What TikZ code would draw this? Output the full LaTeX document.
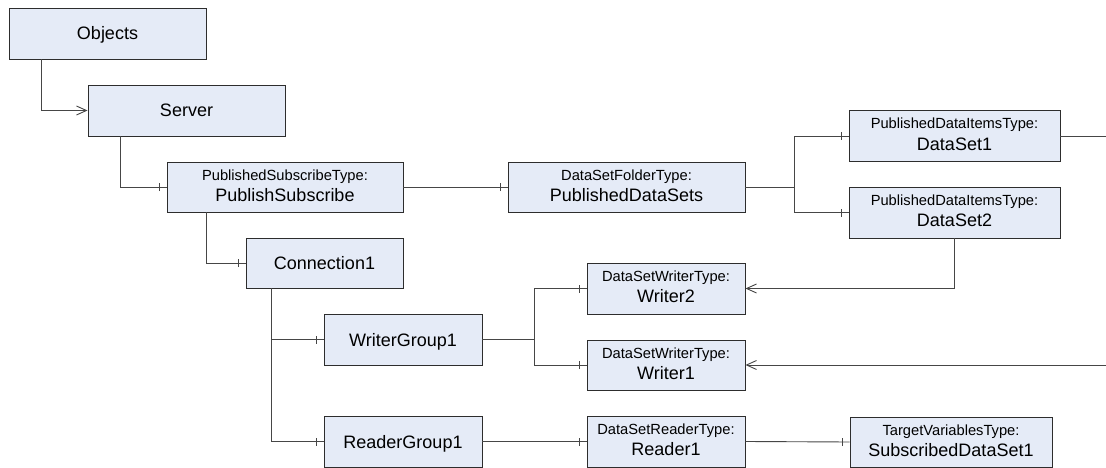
\documentclass[tikz,border=0pt]{standalone}
\usepackage{fontspec}
\setmainfont{Liberation Sans}
\usetikzlibrary{arrows.meta}
\definecolor{boxfill}{RGB}{229,235,247}
\definecolor{boxline}{RGB}{45,45,45}
\definecolor{conncol}{RGB}{70,70,70}
\newcommand\tickbar[1]{\draw[conn] ([xshift=-7pt,yshift=-4pt]#1.west) -- ([xshift=-7pt,yshift=4pt]#1.west);}
\newcommand\twobox[7]{%
  \node[box,minimum width=#4pt,minimum height=#5pt] (#1) at (#2,#3) {};
  \node[smalltxt,anchor=base] (#1-t) at ([yshift=7pt]#1.center) {#6};
  \node[bigtxt,anchor=base] (#1-n) at ([yshift=-14pt]#1.center) {#7};}
\begin{document}
\begin{tikzpicture}[x=1pt,y=-1pt,
  box/.style={draw=boxline,fill=boxfill,line width=0.9pt,rectangle,inner sep=0pt},
  onebox/.style={box,font=\fontsize{18}{20}\selectfont,text height=13pt,text depth=0pt},
  bigtxt/.style={font=\fontsize{18}{20}\selectfont,inner sep=0pt},
  smalltxt/.style={font=\fontsize{14.7}{16}\selectfont,inner sep=0pt},
  conn/.style={draw=conncol,line width=0.9pt},
  arr/.style={conn,-{Straight Barb[length=10pt,width=9pt]}}]
\useasboundingbox (0,0) rectangle (1106,468);
% boxes
\node[onebox,minimum width=197pt,minimum height=51pt] (obj) at (107.5,33.5) {Objects};
\node[onebox,minimum width=197pt,minimum height=51pt] (srv) at (186.5,110.5) {Server};
\twobox{ps}{285}{187}{236}{50}{PublishedSubscribeType:}{PublishSubscribe}
\twobox{pds}{626.5}{187}{237}{50}{DataSetFolderType:}{PublishedDataSets}
\twobox{dsa}{954.5}{136}{211}{51}{PublishedDataItemsType:}{DataSet1}
\twobox{dsb}{954.5}{212.5}{211}{51}{PublishedDataItemsType:}{DataSet2}
\node[onebox,minimum width=157pt,minimum height=50pt] (con) at (324.5,263) {Connection1};
\twobox{wb}{666}{288.5}{158}{51}{DataSetWriterType:}{Writer2}
\node[onebox,minimum width=158pt,minimum height=51pt] (wg) at (403,339.5) {WriterGroup1};
\twobox{wa}{666}{365}{158}{50}{DataSetWriterType:}{Writer1}
\node[onebox,minimum width=158pt,minimum height=51pt] (rg) at (403,441.5) {ReaderGroup1};
\twobox{rd}{666}{441.5}{158}{51}{DataSetReaderType:}{Reader1}
\twobox{sds}{951}{442}{202}{50}{TargetVariablesType:}{SubscribedDataSet1}
% connectors
\draw[arr] ([xshift=33pt]obj.south west) |- (srv.west);
\draw[conn] ([xshift=33pt]srv.south west) |- (ps.west); \tickbar{ps}
\draw[conn] ([xshift=40pt]ps.south west) |- (con.west); \tickbar{con}
\draw[conn] (ps.east) -- (pds.west); \tickbar{pds}
\coordinate (j1) at ([xshift=49pt]pds.east);
\draw[conn] (pds.east) -- (j1);
\draw[conn] (j1) |- (dsa.west); \tickbar{dsa}
\draw[conn] (j1) |- (dsb.west); \tickbar{dsb}
\coordinate (e1) at (1106,136);
\draw[conn] (dsa.east) -- (e1);
\draw[arr] (dsb.south) |- (wb.east);
\draw[conn] ([xshift=26pt]con.south west) |- (wg.west); \tickbar{wg}
\draw[conn] ([xshift=26pt]con.south west) |- (rg.west); \tickbar{rg}
\coordinate (j2) at ([xshift=52pt]wg.east);
\draw[conn] (wg.east) -- (j2);
\draw[conn] (j2) |- (wb.west); \tickbar{wb}
\draw[conn] (j2) |- (wa.west); \tickbar{wa}
\coordinate (e2) at (1106,365);
\draw[arr] (e2) -- (wa.east);
\draw[conn] (rg.east) -- (rd.west); \tickbar{rd}
\draw[conn] (rd.east) -- (sds.west); \tickbar{sds}
\end{tikzpicture}
\end{document}
